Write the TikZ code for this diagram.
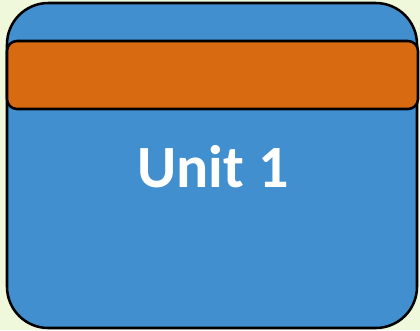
\documentclass[tikz,border=0pt]{standalone}
\usepackage{fontspec}
\setmainfont{Carlito}
\usepackage{tikz}
\usetikzlibrary{positioning}
\definecolor{cBack}{RGB}{240,248,220}
\definecolor{cBlue}{RGB}{65,143,206}
\definecolor{cOrange}{RGB}{216,106,18}
\tikzset{
  basebox/.style={rectangle,draw=black,line width=1.9pt,inner sep=0pt,
                  outer sep=0pt},
  unitbox/.style={basebox,fill=cBlue,rounded corners=31pt,
                  minimum width=307.5pt,minimum height=243.75pt},
  headbar/.style={basebox,fill=cOrange,rounded corners=7.5pt,
                  minimum width=308.25pt,minimum height=51pt},
  unitlabel/.style={text=white,font=\fontsize{45}{54}\selectfont\bfseries}
}
\begin{document}
\begin{tikzpicture}[x=0.75pt,y=-0.75pt]
  \fill[cBack] (0,0) rectangle (420,330);
  \useasboundingbox (0,0) rectangle (420,330);
  \node[unitbox] (unit) at (212,165.5) {};
  \node[headbar] (head) at (212.5,75) {};
  \node[unitlabel] (title) at (213,167) {Unit 1};
\end{tikzpicture}
\end{document}
